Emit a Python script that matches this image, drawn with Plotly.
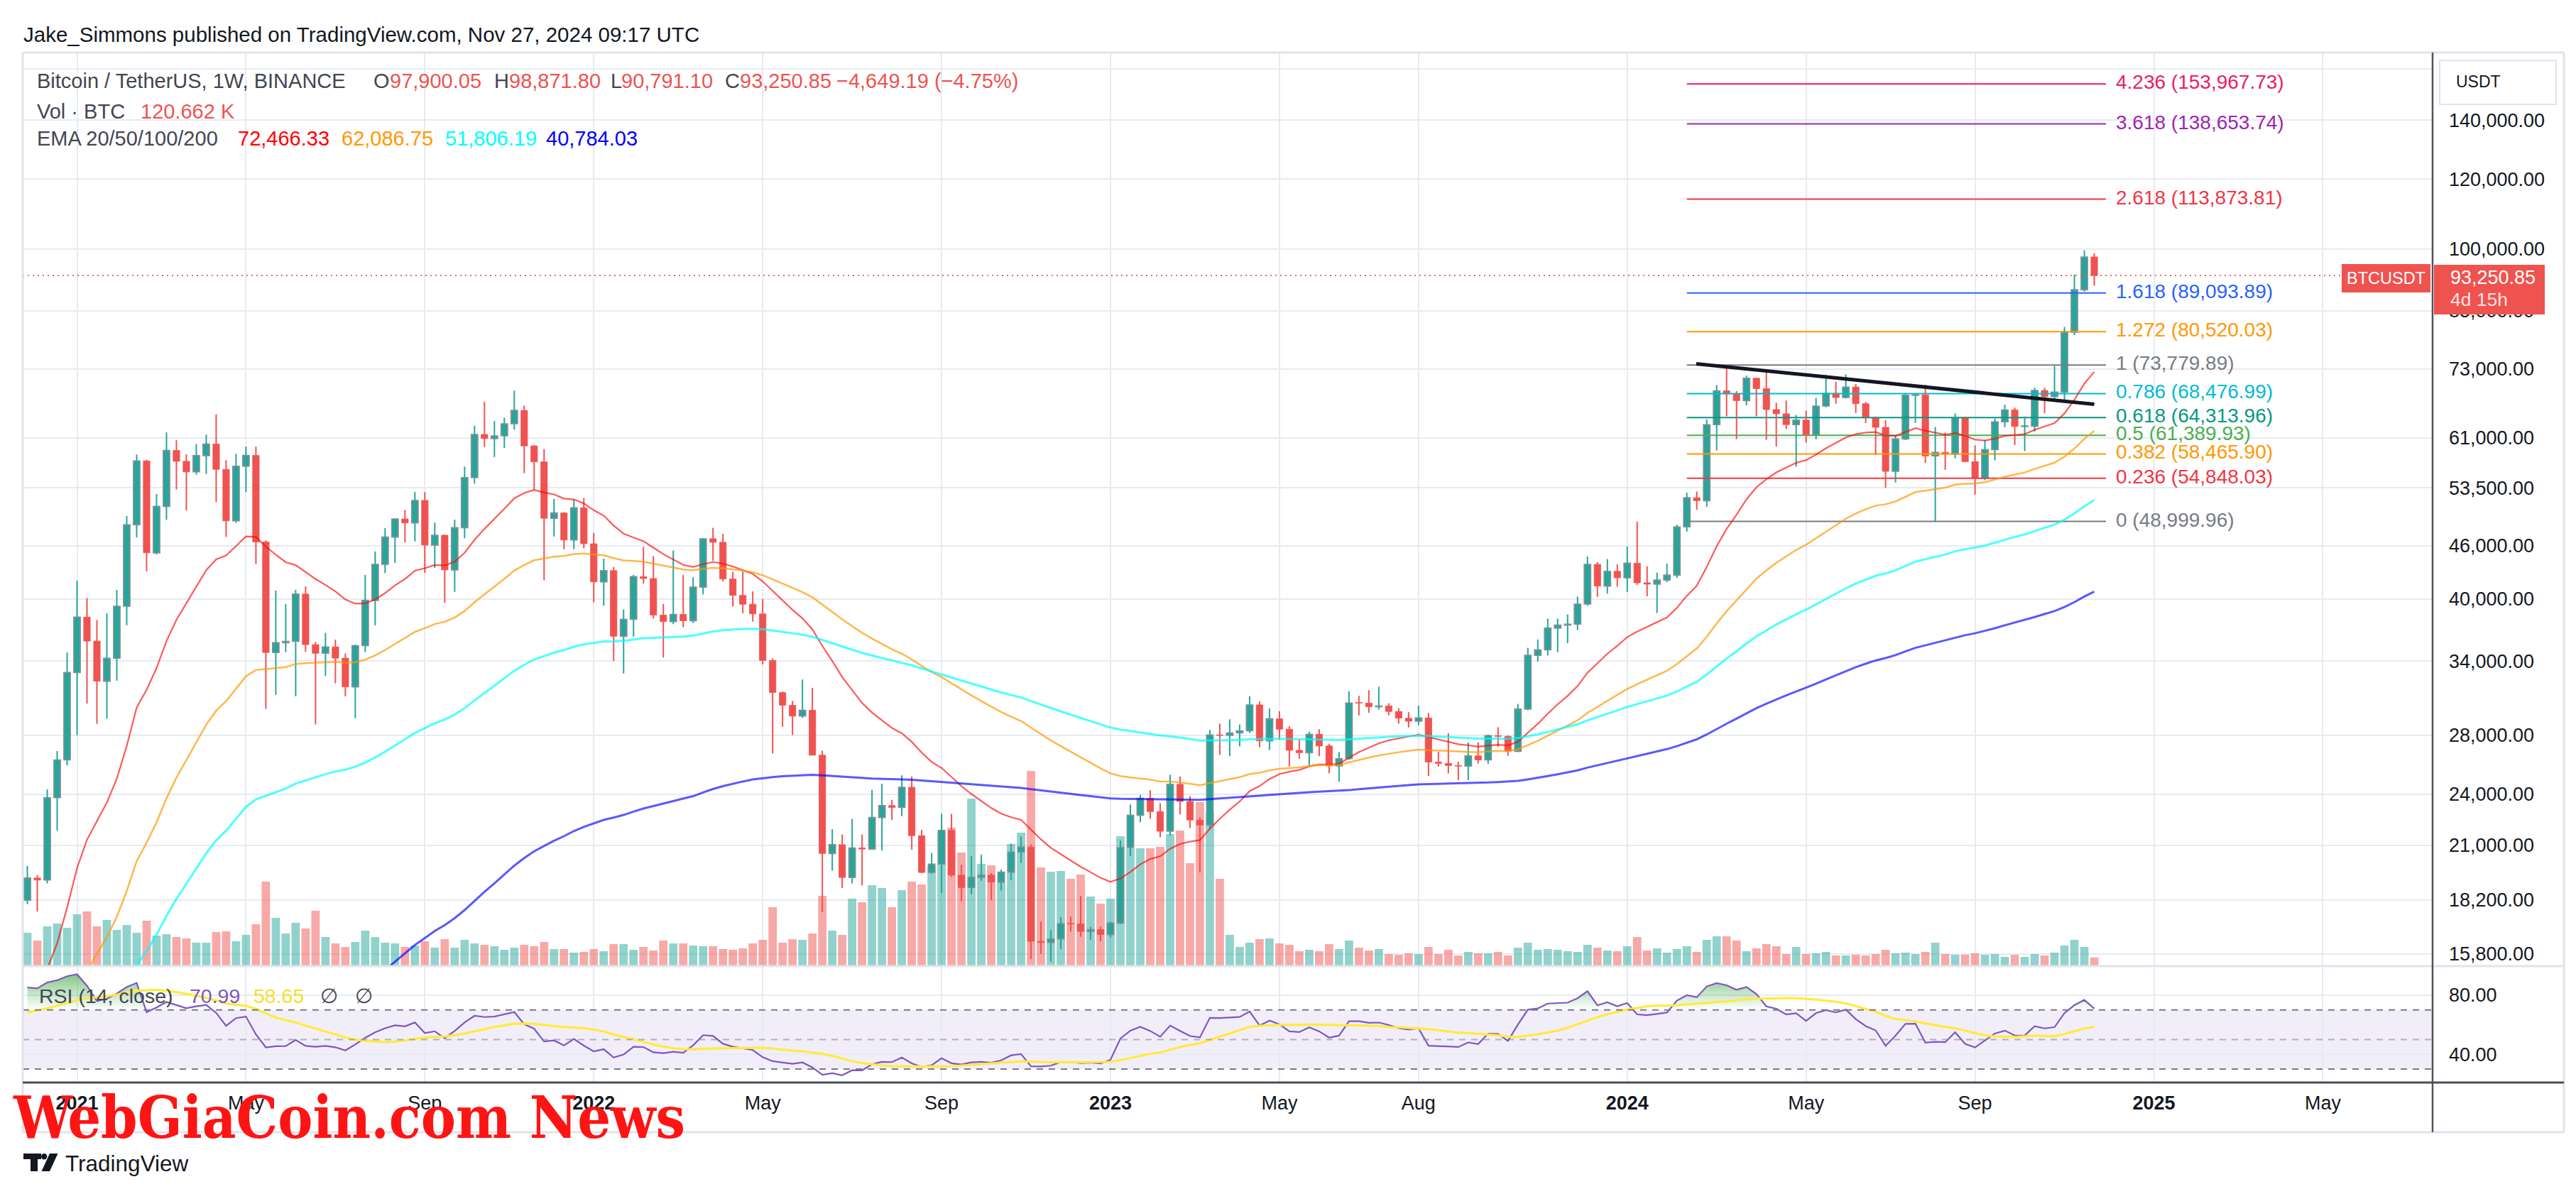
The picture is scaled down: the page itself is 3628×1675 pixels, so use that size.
import math
import pandas as pd
import plotly.graph_objects as go

# ---------------- data (weekly BTCUSDT, Binance) ----------------
FIRST_WEEK = "2020-11-30"

OPEN = [18180, 19275, 19170, 23780, 26250, 33000, 38150, 35830, 32260, 34260,
        39250, 48580, 57410, 45130, 50970, 59000, 57350, 55780, 58200, 60000,
        56150, 49070, 56620, 58240, 46430, 34770, 35680, 35800, 40520, 35500,
        34700, 35290, 34260, 31780, 35400, 39850, 43800, 47030, 49320, 48810,
        51770, 46060, 47260, 43160, 48200, 54960, 61530, 60860, 61300, 63270,
        65520, 59700, 57270, 49400, 50100, 46680, 50780, 46220, 41830, 43080,
        36280, 37920, 42410, 42200, 38350, 37700, 38420, 37780, 41260, 46830,
        46400, 42150, 40380, 39450, 38470, 34060, 31310, 30290, 29440, 29900,
        26580, 20550, 21030, 19300, 20850, 20790, 22580, 23300, 23180, 24440,
        21530, 19555, 19990, 21830, 19420, 18800, 19310, 19420, 19070, 19570,
        20630, 20900, 16330, 16280, 16430, 17100, 17090, 16760, 16840, 16620,
        17130, 20870, 22710, 23740, 22930, 21780, 24630, 23550, 22430, 22140,
        28030, 27990, 28170, 28330, 30320, 27590, 29230, 28450, 26920, 26750,
        28070, 27230, 25850, 26340, 30470, 30460, 30170, 30230, 29800, 29280,
        29050, 29300, 26100, 26010, 25870, 25830, 26530, 26250, 27970, 27920,
        26850, 29990, 34520, 35010, 37060, 37360, 37450, 39470, 43790, 41370,
        43010, 42280, 43930, 41730, 41580, 42030, 42580, 48300, 52140, 51730,
        63110, 68960, 68390, 67210, 71280, 69360, 65660, 64940, 63120, 63890,
        61480, 66270, 68510, 67760, 69650, 66680, 64250, 62680, 55860, 60800,
        68160, 68250, 58160, 58710, 58430, 64220, 57300, 54870, 59130, 63580,
        65600, 62820, 62850, 69030, 67930, 68740, 80370, 89850, 97900.05]

HIGH = [19890, 19420, 24300, 26870, 34780, 41950, 40100, 37850, 38530, 40955,
        49700, 58350, 57580, 52640, 61840, 60600, 58400, 60000, 61500, 64850,
        57500, 58470, 59600, 59600, 46640, 40900, 39480, 40970, 41330, 35750,
        36600, 35970, 34680, 35500, 42600, 45300, 48140, 49380, 50500, 52920,
        52920, 48850, 47360, 49230, 56560, 62930, 67000, 63710, 64270, 69000,
        66340, 59850, 59200, 51950, 50200, 51880, 52090, 47550, 44450, 43500,
        38920, 42600, 45850, 44750, 39490, 45400, 42600, 42350, 46900, 48190,
        47450, 42950, 42980, 40800, 40000, 34240, 31400, 30630, 32400, 31700,
        26890, 21900, 21600, 22500, 21600, 24280, 24670, 23650, 25210, 25140,
        21860, 20580, 22800, 22800, 19950, 20400, 20480, 19520, 19700, 21090,
        21480, 21050, 17200, 16820, 17400, 17420, 18390, 16960, 16970, 17190,
        21260, 23370, 23950, 24250, 23440, 25250, 25130, 23880, 22600, 28390,
        28870, 29190, 28800, 31000, 30590, 30040, 29820, 28680, 27670, 28260,
        28450, 27390, 26800, 31430, 31040, 31500, 31800, 30450, 30050, 29750,
        30250, 29690, 26800, 28150, 26130, 27490, 27490, 28050, 28600, 27990,
        30400, 35200, 35980, 38000, 37990, 38420, 40250, 44700, 44050, 44400,
        43800, 45880, 48970, 43580, 42850, 43880, 48590, 52820, 52990, 64000,
        70000, 73780, 68920, 71770, 71360, 72800, 66870, 67230, 64730, 65500,
        67700, 71950, 70600, 71990, 70200, 67000, 64490, 63860, 61420, 68370,
        68480, 70080, 62740, 61800, 65000, 64480, 59800, 60670, 64130, 66500,
        66000, 64480, 69500, 69520, 73620, 81500, 93480, 99590, 98871.80]

LOW = [18000, 17650, 19000, 21815, 25880, 28000, 30420, 28850, 29240, 32300,
       37350, 47000, 43000, 44950, 49200, 53270, 50430, 55380, 55470, 51540,
       47050, 48800, 52900, 43820, 30000, 31120, 34800, 31000, 34820, 28800,
       32700, 32080, 31000, 29280, 34800, 37330, 42800, 43950, 46370, 46500,
       42830, 43370, 39600, 40750, 46890, 54100, 59520, 58000, 59400, 62300,
       55600, 53250, 42000, 47100, 45550, 45570, 45680, 39650, 39300, 34000,
       32920, 36250, 41650, 38000, 34320, 37450, 37150, 37550, 40470, 44200,
       41860, 39200, 38540, 37700, 33710, 26700, 28630, 28020, 29300, 26560,
       17620, 19650, 18780, 19000, 18900, 20750, 20710, 22430, 22660, 20760,
       19520, 19500, 18540, 19320, 18130, 18470, 19130, 18190, 18650, 19160,
       20050, 15590, 15800, 15480, 16000, 16750, 16530, 16400, 16330, 16500,
       17090, 20400, 22300, 22500, 21450, 21530, 22760, 21970, 19550, 21920,
       26600, 26510, 27200, 28170, 27130, 26940, 27680, 25810, 26330, 25880,
       26510, 25350, 24800, 26260, 29500, 29700, 29950, 29500, 28860, 28580,
       28750, 25170, 25800, 25340, 24900, 24900, 26000, 25980, 27160, 26540,
       26800, 29900, 33940, 34500, 34800, 35630, 36870, 39300, 40220, 40550,
       41300, 40750, 41500, 40280, 38550, 41800, 42260, 47700, 50520, 50900,
       59000, 64530, 60780, 66380, 64500, 60660, 59600, 62390, 56550, 60190,
       60750, 66060, 66670, 67600, 65080, 63380, 58400, 53500, 54260, 60630,
       63420, 57120, 49000, 56080, 57800, 57200, 52550, 54590, 57500, 62700,
       59830, 58900, 62000, 65050, 67450, 66830, 79800, 89380, 90791.10]

CLOSE = [19275, 19170, 23780, 26250, 33000, 38150, 35830, 32260, 34260, 39250,
         48580, 57410, 45130, 50970, 59000, 57350, 55780, 58200, 60000, 56150,
         49070, 56620, 58240, 46430, 34770, 35680, 35800, 40520, 35500, 34700,
         35290, 34260, 31780, 35400, 39850, 43800, 47030, 49320, 48810, 51770,
         46060, 47260, 43160, 48200, 54960, 61530, 60860, 61300, 63270, 65520,
         59700, 57270, 49400, 50100, 46680, 50780, 46220, 41830, 43080, 36280,
         37920, 42410, 42200, 38350, 37700, 38420, 37780, 41260, 46830, 46400,
         42150, 40380, 39450, 38470, 34060, 31310, 30290, 29440, 29900, 26580,
         20550, 21030, 19300, 20850, 20790, 22580, 23300, 23180, 24440, 21530,
         19555, 19990, 21830, 19420, 18800, 19310, 19420, 19070, 19570, 20630,
         20900, 16330, 16280, 16430, 17100, 17090, 16760, 16840, 16620, 17130,
         20870, 22710, 23740, 22930, 21780, 24630, 23550, 22430, 22140, 28030,
         27990, 28170, 28330, 30320, 27590, 29230, 28450, 26920, 26750, 28070,
         27230, 25850, 26340, 30470, 30460, 30170, 30230, 29800, 29280, 29050,
         29300, 26100, 26010, 25870, 25830, 26530, 26250, 27970, 27920, 26850,
         29990, 34520, 35010, 37060, 37360, 37450, 39470, 43790, 41370, 43010,
         42280, 43930, 41730, 41580, 42030, 42580, 48300, 52140, 51730, 63110,
         68960, 68390, 67210, 71280, 69360, 65660, 64940, 63120, 63890, 61480,
         66270, 68510, 67760, 69650, 66680, 64250, 62680, 55860, 60800, 68160,
         68250, 58160, 58710, 58430, 64220, 57300, 54870, 59130, 63580, 65600,
         62820, 62850, 69030, 67930, 68740, 80370, 89850, 97900.05, 93250.85]

# weekly volume, thousand BTC
VOLUME_K = [470, 360, 560, 600, 540, 730, 770, 560, 650, 510,
            580, 470, 640, 430, 450, 410, 390, 330, 330, 480,
            490, 350, 440, 590, 1190, 680, 460, 610, 530, 780,
            410, 320, 270, 340, 500, 410, 330, 320, 270, 290,
            350, 260, 380, 260, 370, 320, 300, 280, 230, 260,
            300, 280, 340, 240, 240, 190, 200, 240, 210, 310,
            310, 230, 270, 220, 360, 320, 320, 290, 280, 280,
            240, 230, 250, 320, 370, 830, 330, 380, 370, 460,
            990, 500, 440, 950, 900, 1140, 1100, 830, 1070, 1190,
            1150, 1410, 1890, 1950, 1600, 2360, 1440, 1420, 1180, 1720,
            1880, 2750, 1390, 1330, 1340, 1230, 1290, 980, 880, 950,
            1830, 1660, 1660, 1660, 1680, 1860, 1910, 1450, 2310, 2150,
            1230, 440, 270, 330, 380, 390, 320, 300, 210, 230,
            210, 310, 240, 360, 260, 220, 240, 170, 160, 180,
            170, 270, 170, 230, 150, 200, 180, 180, 200, 150,
            260, 330, 230, 240, 230, 210, 200, 300, 260, 220,
            210, 280, 410, 220, 250, 190, 240, 280, 200, 370,
            420, 420, 360, 210, 250, 310, 280, 170, 270, 170,
            180, 200, 150, 150, 160, 150, 170, 230, 180, 190,
            170, 200, 330, 170, 160, 160, 180, 160, 170, 130,
            160, 130, 170, 150, 190, 290, 370, 270, 120.662]

DATES = pd.date_range(FIRST_WEEK, periods=len(CLOSE), freq="7D")

EMA_LENGTHS = [20, 50, 100, 200]
EMA_SEEDS = [13200, 10800, 10100, 3140]
EMA_COLORS = ["rgba(255,0,0,0.65)", "rgba(255,152,0,0.7)", "rgba(0,255,255,0.7)", "rgba(0,0,255,0.65)"]
EMA_WIDTHS = [2.2, 2.5, 3, 3]
EMA_LEGEND = ["72,466.33", "62,086.75", "51,806.19", "40,784.03"]
EMA_LEGEND_COLORS = ["#FF0000", "#FF9800", "#00FFFF", "#0000FF"]

RSI_LEN = 14
RSI_SEED_GAIN, RSI_SEED_LOSS = 900, 170
RSI_MA_PAD = 67

FIB_RATIOS = ["4.236", "3.618", "2.618", "1.618", "1.272", "1", "0.786", "0.618", "0.5", "0.382", "0.236", "0"]
FIB_PRICES = [153967.73, 138653.74, 113873.81, 89093.89, 80520.03, 73779.89,
              68476.99, 64313.96, 61389.93, 58465.90, 54848.03, 48999.96]
FIB_COLORS = ["#E91E63", "#9C27B0", "#F23645", "#2962FF", "#FF9800", "#787B86",
              "#00BCD4", "#089981", "#4CAF50", "#FF9800", "#F23645", "#787B86"]
FIB_START, FIB_END, FIB_LABEL_X = "2024-02-12", "2024-12-03 06:00", "2024-12-10 06:00"

TREND_X = ["2024-02-18 14:00", "2024-11-25"]
TREND_Y = [74030, 66580]

LAST_PRICE = 93250.85

PRICE_TICKS = [15800, 18200, 21000, 24000, 28000, 34000, 40000, 46000, 53500,
               61000, 73000, 85000, 100000, 120000, 140000, 160000]
TIME_TICKS = ["2021-01-04", "2021-05-03", "2021-09-06", "2022-01-03", "2022-05-02", "2022-09-05",
              "2023-01-02", "2023-05-01", "2023-08-07", "2024-01-01", "2024-05-06", "2024-09-02",
              "2025-01-06", "2025-05-05"]
TIME_LABELS = ["2021", "May", "Sep", "2022", "May", "Sep", "2023", "May", "Aug", "2024", "May", "Sep", "2025", "May"]

# ---------------- indicators ----------------
def ema(vals, n, seed):
    a = 2.0 / (n + 1)
    out, e = [], seed
    for v in vals:
        e = e + a * (v - e)
        out.append(e)
    return out

def rsi_wilder(closes, first_open, n, ag, al):
    out, prev = [], first_open
    for c in closes:
        ch = c - prev
        ag = (ag * (n - 1) + max(ch, 0)) / n
        al = (al * (n - 1) + max(-ch, 0)) / n
        out.append(100 - 100 / (1 + ag / al) if al > 0 else 100.0)
        prev = c
    return out

EMAS = [ema(CLOSE, n, s) for n, s in zip(EMA_LENGTHS, EMA_SEEDS)]
RSI = rsi_wilder(CLOSE, OPEN[0], RSI_LEN, RSI_SEED_GAIN, RSI_SEED_LOSS)
_hist = [RSI_MA_PAD] * (RSI_LEN - 1) + RSI
RSI_MA = [sum(_hist[i:i + RSI_LEN]) / RSI_LEN for i in range(len(RSI))]

# ---------------- geometry ----------------
W, H = 3628, 1675
def px(x): return x / W
def py(y): return 1 - y / H

PANE_L, PANE_R, FRAME_R = 24, 3418, 3603
MAIN_T, MAIN_B, RSI_B, AXIS_B = 66, 1353, 1517, 1587
X_RANGE = ["2020-11-26 17:30", "2025-07-21 07:40"]
LOG_RANGE = [4.18483, 5.22307]
VOL_RANGE = 12870
RSI_RANGE = [20.87, 99.71]

FONT = "Liberation Sans, Arial, sans-serif"
TXT = "#131722"
GRAY = "#434651"
GRID = "#e6ebf1"
FRAME = "#e0e3eb"
UP, DN = "#26A69A", "#EF5350"
WEEK_MS = 7 * 24 * 3600 * 1000

fig = go.Figure()

# volume (base axis y, drawn underneath)
is_up = [c >= o for o, c in zip(OPEN, CLOSE)]
fig.add_trace(go.Bar(x=DATES, y=VOLUME_K, width=WEEK_MS * 0.84, xaxis="x", yaxis="y",
                     marker=dict(color=["rgba(38,166,154,0.5)" if u else "rgba(239,83,80,0.5)" for u in is_up],
                                 line=dict(width=0)), hoverinfo="skip"))

# candle bodies
for up_flag in (True, False):
    idx = [i for i in range(len(CLOSE)) if is_up[i] == up_flag]
    fig.add_trace(go.Bar(
        x=[DATES[i] for i in idx],
        base=[min(OPEN[i], CLOSE[i]) for i in idx],
        y=[max(abs(CLOSE[i] - OPEN[i]), CLOSE[i] * 0.0015) for i in idx],
        width=WEEK_MS * 0.66, xaxis="x", yaxis="y2",
        marker=dict(color=UP if up_flag else DN,
                    line=dict(color="#8b8e97" if up_flag else DN, width=1.6 if up_flag else 0.8)),
        hoverinfo="skip"))

# fib levels
for r, p, c in zip(FIB_RATIOS, FIB_PRICES, FIB_COLORS):
    fig.add_trace(go.Scatter(x=[FIB_START, FIB_END], y=[p, p], mode="lines", xaxis="x", yaxis="y2",
                             line=dict(color=c, width=2), hoverinfo="skip"))

# wicks
for up_flag in (True, False):
    xs, ys = [], []
    for i in range(len(CLOSE)):
        if is_up[i] != up_flag:
            continue
        d = DATES[i]
        top, bot = max(OPEN[i], CLOSE[i]), min(OPEN[i], CLOSE[i])
        xs += [d, d, None, d, d, None]
        ys += [HIGH[i], top, None, bot, LOW[i], None]
    fig.add_trace(go.Scatter(x=xs, y=ys, mode="lines", xaxis="x", yaxis="y2",
                             line=dict(color=UP if up_flag else DN, width=2), hoverinfo="skip"))

# EMAs
for vals, c, w in zip(EMAS, EMA_COLORS, EMA_WIDTHS):
    fig.add_trace(go.Scatter(x=DATES, y=vals, mode="lines", xaxis="x", yaxis="y2",
                             line=dict(color=c, width=w), hoverinfo="skip"))

# trend line
fig.add_trace(go.Scatter(x=TREND_X, y=TREND_Y, mode="lines", xaxis="x", yaxis="y2",
                         line=dict(color=TXT, width=5), hoverinfo="skip"))

# last price line
fig.add_trace(go.Scatter(x=X_RANGE, y=[LAST_PRICE, LAST_PRICE], mode="lines", xaxis="x", yaxis="y2",
                         line=dict(color=DN, width=1.6, dash="2px,5px"), hoverinfo="skip"))

# fib labels
fig.add_trace(go.Scatter(x=[FIB_LABEL_X] * len(FIB_PRICES), y=FIB_PRICES, mode="text", xaxis="x", yaxis="y2",
                         text=[f"{r} ({p:,.2f})" for r, p in zip(FIB_RATIOS, FIB_PRICES)],
                         textposition="middle right", cliponaxis=False,
                         textfont=dict(family=FONT, size=28, color=FIB_COLORS), hoverinfo="skip"))

# RSI overbought gradient fill
fig.add_trace(go.Scatter(x=DATES, y=[70] * len(RSI), mode="lines", xaxis="x", yaxis="y3",
                         line=dict(width=0, color="rgba(0,0,0,0)"), hoverinfo="skip"))
fig.add_trace(go.Scatter(x=DATES, y=[max(v, 70) for v in RSI], mode="lines", xaxis="x", yaxis="y3",
                         line=dict(width=0, color="rgba(0,0,0,0)"), fill="tonexty",
                         fillgradient=dict(type="vertical", start=70, stop=100,
                                           colorscale=[[0, "rgba(76,175,80,0)"], [1, "rgba(76,175,80,0.85)"]]),
                         hoverinfo="skip"))
fig.add_trace(go.Scatter(x=DATES, y=RSI, mode="lines", xaxis="x", yaxis="y3",
                         line=dict(color="#7E57C2", width=2.2), hoverinfo="skip"))
fig.add_trace(go.Scatter(x=DATES, y=RSI_MA, mode="lines", xaxis="x", yaxis="y3",
                         line=dict(color="#FFEB3B", width=3.2), hoverinfo="skip"))

tickfont = dict(family=FONT, size=27, color=TXT)
fig.update_layout(
    width=W, height=H, margin=dict(l=0, r=0, t=0, b=0),
    paper_bgcolor="white", plot_bgcolor="rgba(0,0,0,0)",
    showlegend=False, hovermode=False, barmode="overlay",
    font=dict(family=FONT, size=27, color=TXT),
    xaxis=dict(type="date", domain=[px(PANE_L), px(PANE_R)], range=X_RANGE, anchor="y3",
               tickmode="array", tickvals=TIME_TICKS,
               ticktext=[f"<b>{t}</b>" if t.isdigit() else t for t in TIME_LABELS],
               showgrid=True, gridcolor=GRID, gridwidth=2, ticks="", showline=False, zeroline=False,
               tickfont=tickfont, ticklabelstandoff=10, fixedrange=True),
    yaxis=dict(domain=[py(MAIN_B), py(MAIN_T)], range=[0, VOL_RANGE], visible=False, fixedrange=True),
    yaxis2=dict(type="log", overlaying="y", side="right", anchor="x", range=LOG_RANGE,
                tickmode="array", tickvals=PRICE_TICKS, ticktext=[f"{v:,.2f}" for v in PRICE_TICKS],
                showgrid=True, gridcolor=GRID, gridwidth=2, ticks="", showline=False, zeroline=False,
                tickfont=tickfont, ticklabelstandoff=22, fixedrange=True),
    yaxis3=dict(domain=[py(RSI_B), py(MAIN_B)], range=RSI_RANGE, side="right", anchor="x",
                tickmode="array", tickvals=[40, 80], ticktext=["40.00", "80.00"],
                showgrid=True, gridcolor=GRID, gridwidth=2, ticks="", showline=False, zeroline=False,
                tickfont=tickfont, ticklabelstandoff=22, fixedrange=True),
)

shapes = []
def hline(y, x0, x1, color, width, dash=None):
    shapes.append(dict(type="line", xref="paper", yref="paper", x0=px(x0), x1=px(x1), y0=py(y), y1=py(y),
                       line=dict(color=color, width=width, dash=dash) if dash else dict(color=color, width=width)))
def vline(x, y0, y1, color, width):
    shapes.append(dict(type="line", xref="paper", yref="paper", x0=px(x), x1=px(x), y0=py(y0), y1=py(y1),
                       line=dict(color=color, width=width)))
def rect(x0, y0, x1, y1, fill, line_color=None, lw=0):
    shapes.append(dict(type="rect", xref="paper", yref="paper", x0=px(x0), x1=px(x1), y0=py(y1), y1=py(y0),
                       fillcolor=fill, line=dict(color=line_color or fill, width=lw), layer="above"))

# RSI band and levels
shapes.append(dict(type="rect", xref="paper", yref="y3", x0=px(PANE_L), x1=px(PANE_R), y0=30, y1=70,
                   fillcolor="rgba(126,87,194,0.1)", line=dict(width=0), layer="below"))
for lvl, col in ((70, "#787B86"), (50, "rgba(120,123,134,0.55)"), (30, "#787B86")):
    shapes.append(dict(type="line", xref="paper", yref="y3", x0=px(PANE_L), x1=px(PANE_R), y0=lvl, y1=lvl,
                       line=dict(color=col, width=2, dash="9px,8px")))

# frame
hline(MAIN_T, PANE_L, FRAME_R, FRAME, 3)
hline(MAIN_B, PANE_L, FRAME_R, FRAME, 3)
hline(AXIS_B, PANE_L, FRAME_R, FRAME, 3)
vline(PANE_L, MAIN_T, AXIS_B, FRAME, 3)
vline(FRAME_R, MAIN_T, AXIS_B, FRAME, 3)
hline(RSI_B, PANE_L, FRAME_R, "#4a4d57", 3)
vline(PANE_R, MAIN_T, AXIS_B, "#50535e", 2.5)

# price labels
rect(3428, 77, 3592, 139, "white", FRAME, 2)
rect(3420, 365, 3576, 435, DN)
rect(3290, 364, 3415, 404, DN)

# TradingView logo
def path(pts):
    return "M " + " L ".join(f"{px(x)},{py(y)}" for x, y in pts) + " Z"
shapes.append(dict(type="path", xref="paper", yref="paper", line=dict(width=0), fillcolor=TXT,
                   path=path([(25, 1617), (50, 1617), (50, 1625), (45, 1625), (45, 1642), (35, 1642), (35, 1625), (25, 1625)])))
shapes.append(dict(type="path", xref="paper", yref="paper", line=dict(width=0), fillcolor=TXT,
                   path=path([(62, 1617), (73.5, 1617), (62, 1642), (50.5, 1642)])))
shapes.append(dict(type="circle", xref="paper", yref="paper", line=dict(width=0), fillcolor=TXT,
                   x0=px(50), x1=px(58.4), y0=py(1625.4), y1=py(1617)))
fig.update_layout(shapes=shapes)

def note(x, y, text, color, size=29, anchor="left", family=FONT, bold=False):
    fig.add_annotation(xref="paper", yref="paper", x=px(x), y=py(y), text=text, showarrow=False,
                       xanchor=anchor, yanchor="middle", borderpad=0,
                       font=dict(family=family, size=size, color=color, weight="bold" if bold else "normal"))

RED = "#EF5350"
note(24, 40, "Jake_Simmons published on TradingView.com, Nov 27, 2024 09:17 UTC", TXT, 29.5)
note(43, 106, "Bitcoin / TetherUS, 1W, BINANCE", GRAY)
note(517, 106, "O", GRAY); note(540, 106, "97,900.05", RED)
note(687, 106, "H", GRAY); note(708, 106, "98,871.80", RED)
note(851, 106, "L", GRAY); note(866, 106, "90,791.10", RED)
note(1012, 106, "C", GRAY); note(1033, 106, "93,250.85", RED)
note(1169, 106, "\u22124,649.19 (\u22124.75%)", RED)
note(43, 149, "Vol \u00b7 BTC", GRAY); note(189, 149, "120.662 K", RED)
note(43, 187, "EMA 20/50/100/200", GRAY)
for xx, t, c in zip([326, 472, 618, 760], EMA_LEGEND, EMA_LEGEND_COLORS):
    note(xx, 187, t, c)

note(46, 1395, "RSI (14, close)", GRAY, 28.5)
note(258, 1395, "70.99", "#7E57C2", 28.5)
note(348, 1395, "58.65", "#F5DF2E", 28.5)
note(442, 1395, "\u2205", GRAY, 28.5)
note(491, 1395, "\u2205", GRAY, 28.5)

note(3482, 107, "USDT", TXT, 23, anchor="center")
note(3442, 383, "93,250.85", "white", 27)
note(3442, 414, "4d 15h", "rgba(255,255,255,0.85)", 26.5)
note(3352, 384, "BTCUSDT", "white", 23.5, anchor="center")

note(9, 1566, "WebGiaCoin.com News", "#FF1414", 82, family="DejaVu Serif Condensed, DejaVu Serif", bold=True)
note(83, 1631, "TradingView", TXT, 31.5)

fig.write_html("out.html", config={"displayModeBar": False})
